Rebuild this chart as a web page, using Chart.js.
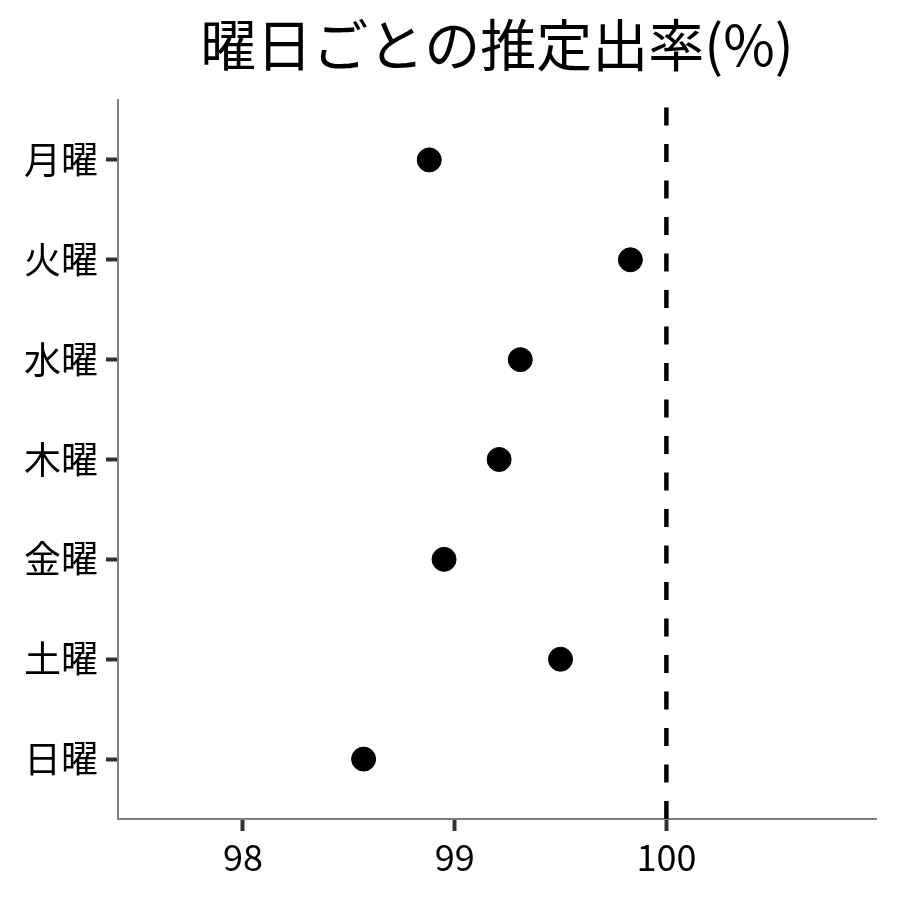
<!DOCTYPE html>
<html>
<head>
<meta charset="utf-8">
<script src="https://cdn.jsdelivr.net/npm/chart.js@4/dist/chart.umd.min.js"></script>
<style>
  html, body { margin: 0; padding: 0; background: #fff; }
  #wrap { width: 900px; height: 900px; }
</style>
</head>
<body>
<div id="wrap"><canvas id="chartCanvas" width="900" height="900"></canvas></div>
<script>
const days = ["月曜", "火曜", "水曜", "木曜", "金曜", "土曜", "日曜"];
const rates = [98.88, 99.83, 99.31, 99.21, 98.95, 99.50, 98.57];
const xTicks = [98, 99, 100];
const refLine = 100;
const titleText = "曜日ごとの推定出率(%)";

const font = "'Noto Sans CJK JP', 'Noto Sans', sans-serif";

// points: x = rate, y = position of the day
const points = rates.map((r, i) => ({ x: r, y: i }));

// title centred over the plot panel (ggplot style), not the whole canvas
const panelTitle = {
  id: "panelTitle",
  afterDraw(chart) {
    const { ctx, chartArea } = chart;
    ctx.save();
    ctx.fillStyle = "#000";
    ctx.font = "56px " + font;
    ctx.textAlign = "center";
    ctx.textBaseline = "middle";
    ctx.fillText(titleText, (chartArea.left + chartArea.right) / 2, 45);
    ctx.restore();
  }
};

const config = {
  type: "scatter",
  data: {
    datasets: [
      {
        label: "推定出率",
        data: points,
        backgroundColor: "#000",
        borderColor: "#000",
        pointRadius: 12,
        pointHoverRadius: 12
      },
      {
        label: "100%",
        data: [{ x: refLine, y: days.length - 0.4 }, { x: refLine, y: -0.6 }],
        showLine: true,
        borderColor: "#000",
        borderWidth: 4.5,
        borderDash: [18, 18.5],
        pointRadius: 0
      }
    ]
  },
  options: {
    responsive: false,
    animation: false,
    layout: { padding: { left: 0, right: 24, top: 100, bottom: 0 } },
    plugins: {
      legend: { display: false },
      tooltip: { enabled: false },
      title: { display: false }
    },
    scales: {
      x: {
        type: "linear",
        min: 97.41,
        max: 100.99,
        afterBuildTicks: (s) => { s.ticks = xTicks.map(v => ({ value: v })); },
        afterFit: (s) => { s.height = 81; },
        ticks: {
          color: "#000",
          padding: 5,
          font: { family: font, size: 36 },
          callback: (v) => String(v)
        },
        grid: {
          drawOnChartArea: false,
          tickLength: 12,
          tickWidth: 4,
          tickColor: "#333"
        },
        border: { display: true, color: "#808080", width: 2 }
      },
      y: {
        type: "linear",
        min: -0.6,
        max: days.length - 0.4,
        reverse: true,
        afterBuildTicks: (s) => { s.ticks = days.map((d, i) => ({ value: i })); },
        afterFit: (s) => { s.width = 118; },
        ticks: {
          color: "#000",
          padding: 8,
          font: { family: font, size: 37 },
          callback: (v) => days[v]
        },
        grid: {
          drawOnChartArea: false,
          tickLength: 12,
          tickWidth: 4,
          tickColor: "#333"
        },
        border: { display: true, color: "#808080", width: 2 }
      }
    }
  },
  plugins: [panelTitle]
};

new Chart(document.getElementById("chartCanvas"), config);
</script>
</body>
</html>
